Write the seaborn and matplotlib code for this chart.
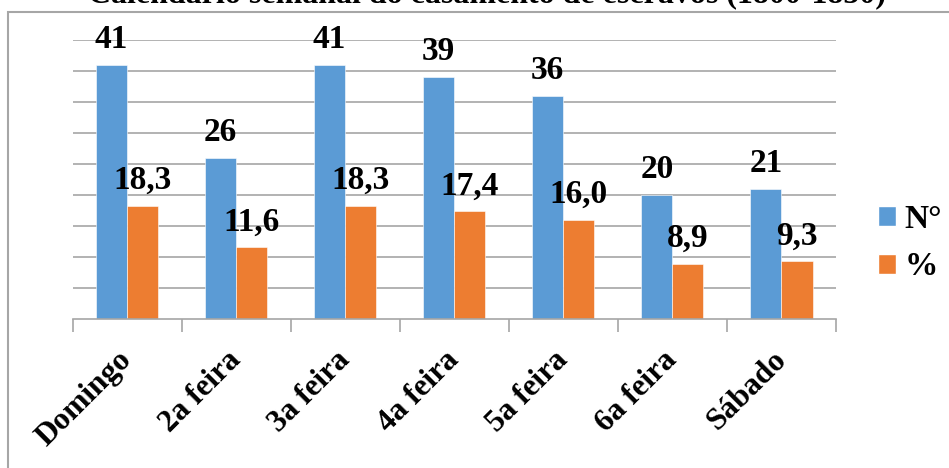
import matplotlib
matplotlib.use("Agg")
import matplotlib.pyplot as plt
import matplotlib.transforms as mtransforms
import seaborn as sns
import pandas as pd
from matplotlib.patches import Patch, Rectangle

# data
dias = ["Domingo", "2a feira", "3a feira", "4a feira", "5a feira", "6a feira", "Sábado"]
numero = [41, 26, 41, 39, 36, 20, 21]
percent = [18.3, 11.6, 18.3, 17.4, 16.0, 8.9, 9.3]
series = ["N°", "%"]
titulo = "Calendário semanal do casamento de escravos (1800-1850)"

BLUE = "#5B9BD5"
ORANGE = "#ED7D31"
GRID = "#a6a6a6"

df = pd.DataFrame({
    "dia": dias * 2,
    "valor": numero + percent,
    "serie": [series[0]] * len(dias) + [series[1]] * len(dias),
})

sns.set_style("white")
plt.rcParams["font.family"] = ["Liberation Serif", "DejaVu Serif"]
plt.rcParams["font.weight"] = "bold"
plt.rcParams["text.color"] = "black"
plt.rcParams["xtick.color"] = "black"

fig = plt.figure(figsize=(9.49, 4.68), dpi=100)
ax = fig.add_axes([72.5 / 949, 1 - 319 / 468, (836 - 72.5) / 949, (319 - 40) / 468])

sns.barplot(data=df, x="dia", y="valor", hue="serie", order=dias, hue_order=series,
            palette=[BLUE, ORANGE], saturation=1, width=0.57, ax=ax, legend=False,
            edgecolor="white", linewidth=0.4)

# value labels, comma decimals
for cont, fmt in zip(ax.containers, ["{:.0f}", "{:.1f}"]):
    labels = [fmt.format(v).replace(".", ",") for v in cont.datavalues]
    ax.bar_label(cont, labels=labels, padding=7, fontsize=24, fontweight="bold",
                 color="black")

ax.set_ylim(0, 45)
ax.set_yticks(range(5, 46, 5))
ax.yaxis.grid(True, color=GRID, linewidth=1.2)
ax.set_axisbelow(True)
ax.tick_params(axis="y", left=False, labelleft=False)
ax.set_xlim(-0.5, len(dias) - 0.5)
ax.set_xlabel("")
ax.set_ylabel("")

for s in ["top", "right", "left"]:
    ax.spines[s].set_visible(False)
ax.spines["bottom"].set_color(GRID)
ax.spines["bottom"].set_linewidth(1.2)

# tick marks between categories, labels rotated
ax.set_xticks([i - 0.5 for i in range(len(dias) + 1)], minor=True)
ax.tick_params(axis="x", which="minor", length=9, width=1.2, color=GRID, bottom=True)
ax.tick_params(axis="x", which="major", length=0, pad=8)
ax.set_xticks(range(len(dias)))
ax.set_xticklabels(dias, rotation=45, ha="right", rotation_mode="anchor",
                   fontsize=22.5, fontweight="bold", color="black")
shift = mtransforms.ScaledTranslation(-10 / 100, -15 / 100, fig.dpi_scale_trans)
for lab in ax.get_xticklabels():
    lab.set_transform(lab.get_transform() + shift)

handles = [Patch(facecolor=BLUE, label=series[0]), Patch(facecolor=ORANGE, label=series[1])]
fig.legend(handles=handles, loc="center left", bbox_to_anchor=(878 / 949, 1 - 243 / 468),
           frameon=False, handlelength=0.55, handleheight=0.55,
           handletextpad=0.25, labelspacing=0.5, borderpad=0, borderaxespad=0,
           prop={"weight": "bold", "size": 24})

fig.text(487 / 949, 1 - 2 / 468, titulo, ha="center", va="baseline",
         fontsize=23, fontweight="bold")

# chart area border (only top and left visible)
fig.patches.append(Rectangle((8 / 949, -0.1), 1.2, 1 - 12 / 468 + 0.1,
                             transform=fig.transFigure, fill=False,
                             edgecolor=GRID, linewidth=1.5))

fig.savefig("out.png", dpi=100)
